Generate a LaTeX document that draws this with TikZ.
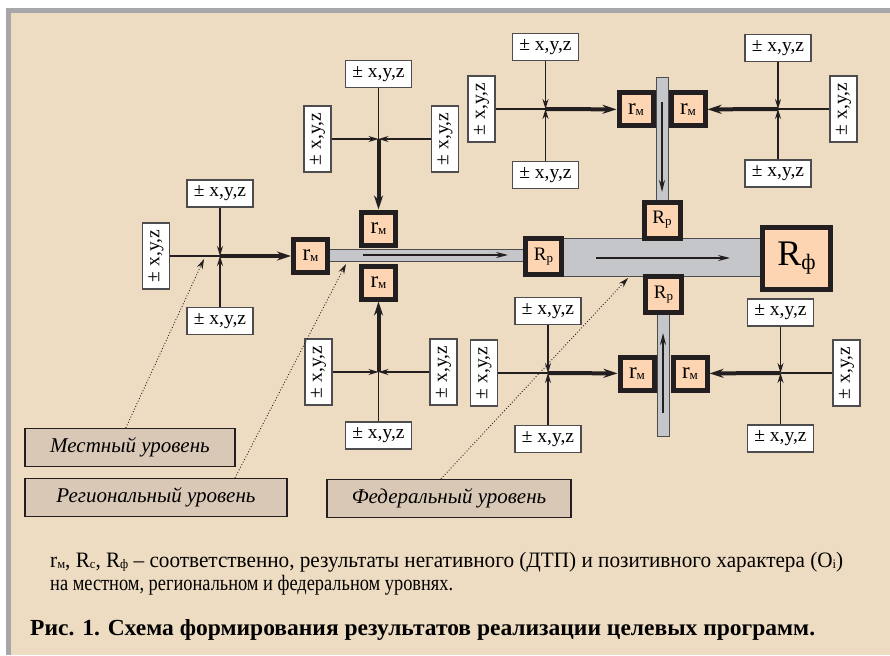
\documentclass[tikz,border=0pt]{standalone}
\usepackage{fontspec}
\setmainfont{Liberation Serif}
\usetikzlibrary{arrows.meta,calc}
\definecolor{bg}{HTML}{EEDCC2}
\definecolor{framegray}{HTML}{A7A7A9}
\definecolor{peach}{HTML}{FDD5B3}
\definecolor{bargray}{HTML}{C5C6CA}
\definecolor{labfill}{HTML}{D9C8B5}
\definecolor{ink}{HTML}{231F20}
\definecolor{edgegray}{HTML}{4D4D4F}
\newcommand{\xyz}{± x,y,z}
\newcommand{\rmtext}{{\fontsize{23}{23}\selectfont r\raisebox{-1pt}{\fontsize{13}{13}\selectfont м}}}
\newcommand{\Rptext}{{\fontsize{19}{19}\selectfont R\raisebox{-2pt}{\fontsize{13}{13}\selectfont р}}}
\newcommand{\Rftext}{{\fontsize{36}{36}\selectfont R\raisebox{-4pt}{\fontsize{22}{22}\selectfont ф}}}
\newcommand{\lsub}[1]{\raisebox{-1.5pt}{\fontsize{13}{13}\selectfont #1}}
\begin{document}
\begin{tikzpicture}[x=1pt,y=-1pt,
  xyz/.style={draw=edgegray, fill=white, line width=1.1pt, minimum width=66pt, minimum height=27pt, inner sep=0pt, font=\fontsize{19.5}{19.5}\selectfont},
  xyzv/.style={xyz, rotate=90},
  rbox/.style={draw=ink, fill=peach, line width=5pt, minimum width=34pt, minimum height=33pt, inner sep=0pt},
  Rbox/.style={rbox, minimum width=36pt, minimum height=36pt},
  thinline/.style={draw=ink, line width=1.3pt},
  thinarr/.style={thinline, -{Stealth[length=10pt,width=6pt]}},
  thickarr/.style={draw=ink, line width=4pt, -{Stealth[length=14pt,width=9pt]}},
  bar/.style={draw=edgegray, fill=bargray, line width=1pt},
  bararr/.style={draw=ink, line width=1.4pt, -{Stealth[length=12pt,width=6pt]}},
  lab/.style={draw=ink, fill=labfill, line width=1.2pt, minimum height=38pt, inner sep=0pt, font=\itshape\fontsize{21}{21}\selectfont},
  dots/.style={draw=ink, line width=0.9pt, dotted, -{Stealth[length=10pt,width=6pt]}}
]
% background and frame
\fill[white] (0,0) rectangle (890,655);
\fill[framegray] (6,8) rectangle (890,655);
\fill[bg] (11,13) rectangle (890,655);
\useasboundingbox (0,0) rectangle (890,655);

% gray bars
\filldraw[bar] (325,249) rectangle (528,261);
\filldraw[bar] (560,238) rectangle (765,276);
\filldraw[bar] (656,78) rectangle (668,205);
\filldraw[bar] (657,310) rectangle (669,436);
\coordinate (ba1s) at (363,255); \coordinate (ba1e) at (508,255);
\coordinate (ba2s) at (596,258); \coordinate (ba2e) at (730,258);
\coordinate (ba3s) at (662,102); \coordinate (ba3e) at (662,192);
\coordinate (ba4s) at (663,413); \coordinate (ba4e) at (663,333);
\draw[bararr] (ba1s) -- (ba1e);
\draw[bararr] (ba2s) -- (ba2e);
\draw[bararr] (ba3s) -- (ba3e);
\draw[bararr] (ba4s) -- (ba4e);

% left cluster
\coordinate (J1) at (220,256);
\node[xyz] (a1) at (220,193.5) {\xyz};
\node[xyzv] (a2) at (156,256) {\xyz};
\node[xyz] (a3) at (220,321) {\xyz};
\node[rbox] (r1) at (310.5,256) {\rmtext};
\draw[thinline] (a2) -- (J1);
\draw[thinarr] (a1) -- (J1);
\draw[thinarr] (a3) -- (J1);
\draw[thickarr] (J1) -- (r1);

% upper cluster
\coordinate (J2) at (378.5,139);
\node[xyz] (b1) at (378.5,74) {\xyz};
\node[xyzv] (b2) at (317.5,139) {\xyz};
\node[xyzv] (b3) at (445,139) {\xyz};
\node[rbox] (r2) at (378.5,228.5) {\rmtext};
\draw[thinline] (b1) -- (J2);
\draw[thinarr] (b2) -- (J2);
\draw[thinarr] (b3) -- (J2);
\draw[thickarr] (J2) -- (r2);

% lower cluster
\coordinate (J3) at (378.5,372);
\node[xyzv] (c1) at (318.5,372) {\xyz};
\node[xyzv] (c2) at (443.5,372) {\xyz};
\node[xyz] (c3) at (378.5,435.5) {\xyz};
\node[rbox] (r3) at (378.5,282.5) {\rmtext};
\draw[thinline] (c3) -- (J3);
\draw[thinarr] (c1) -- (J3);
\draw[thinarr] (c2) -- (J3);
\draw[thickarr] (J3) -- (r3);

% top right
\coordinate (J4) at (545.5,109);
\node[xyz] (d1) at (545.5,47) {\xyz};
\node[xyzv] (d2) at (481.5,109) {\xyz};
\node[xyz] (d3) at (545.5,175) {\xyz};
\node[rbox] (r4) at (636,109.5) {\rmtext};
\draw[thinline] (d2) -- (J4);
\draw[thinarr] (d1) -- (J4);
\draw[thinarr] (d3) -- (J4);
\draw[thickarr] (J4) -- (r4);

\coordinate (J5) at (778,109);
\node[xyz] (e1) at (778,48) {\xyz};
\node[xyzv] (e2) at (843.5,109) {\xyz};
\node[xyz] (e3) at (778,173.5) {\xyz};
\node[rbox] (r5) at (688,109.5) {\rmtext};
\draw[thinline] (e2) -- (J5);
\draw[thinarr] (e1) -- (J5);
\draw[thinarr] (e3) -- (J5);
\draw[thickarr] (J5) -- (r5);

% bottom right
\coordinate (J6) at (548,373);
\node[xyz] (f1) at (548,311) {\xyz};
\node[xyzv] (f2) at (484,373) {\xyz};
\node[xyz] (f3) at (548,439) {\xyz};
\node[rbox] (r6) at (637,373.5) {\rmtext};
\draw[thinline] (f2) -- (J6);
\draw[thinarr] (f1) -- (J6);
\draw[thinarr] (f3) -- (J6);
\draw[thickarr] (J6) -- (r6);

\coordinate (J7) at (780.5,373);
\node[xyz] (g1) at (780.5,312.5) {\xyz};
\node[xyzv] (g2) at (846.5,373) {\xyz};
\node[xyz] (g3) at (780.5,438.5) {\xyz};
\node[rbox] (r7) at (690,373.5) {\rmtext};
\draw[thinline] (g2) -- (J7);
\draw[thinarr] (g1) -- (J7);
\draw[thinarr] (g3) -- (J7);
\draw[thickarr] (J7) -- (r7);

% regional / federal boxes
\node[Rbox] (R1) at (543.5,256.5) {\Rptext};
\node[Rbox] (R2) at (662,220) {\Rptext};
\node[Rbox] (R3) at (663.5,294.5) {\Rptext};
\node[rbox, minimum width=68pt, minimum height=62pt] (RF) at (796.5,258.5) {\Rftext};

% level labels
\node[lab, minimum width=210pt] (L1) at (130,447.5) {Местный уровень};
\node[lab, minimum width=262pt] (L2) at (156,497.5) {Региональный уровень};
\node[lab, minimum width=244pt] (L3) at (449,498.5) {Федеральный уровень};
\coordinate (t1) at (204,259);
\coordinate (t2) at (346,264);
\coordinate (t3) at (628,278);
\draw[dots] ($(L1.north west)!0.48!(L1.north east)$) -- (t1);
\draw[dots] ($(L2.north west)!0.8!(L2.north east)$) -- (t2);
\draw[dots] ($(L3.north west)!0.467!(L3.north east)$) -- (t3);

% legend and caption
\node[anchor=base west, inner sep=0pt] (leg1) at (50,567) {\resizebox{793pt}{\height}{\fontsize{22}{22}\selectfont r\lsub{м}, R\lsub{с}, R\lsub{ф} – соответственно, результаты негативного (ДТП) и позитивного характера (О\lsub{i})}};
\node[anchor=base west, inner sep=0pt] (leg2) at (50,590) {\resizebox{403pt}{\height}{\fontsize{22}{22}\selectfont на местном, региональном и федеральном уровнях.}};
\node[anchor=base west, inner sep=0pt] (cap) at (30,635) {\resizebox{785pt}{\height}{\fontsize{23}{23}\selectfont\bfseries Рис. 1. Схема формирования результатов реализации целевых программ.}};
\end{tikzpicture}
\end{document}
